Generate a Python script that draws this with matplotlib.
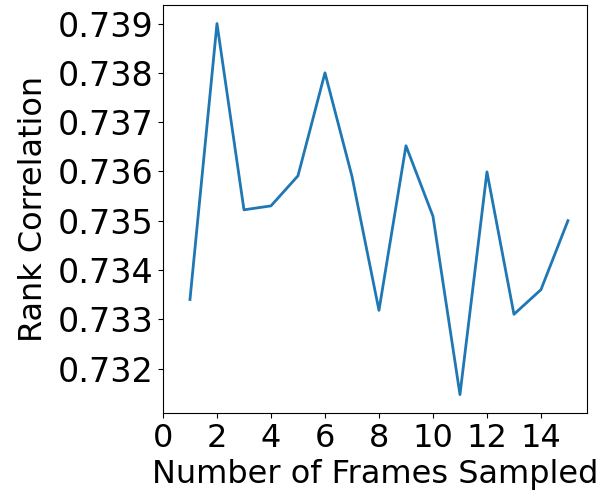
import matplotlib
matplotlib.use('Agg')
from matplotlib import pyplot as plt
import matplotlib.ticker as mtick

frames = [1, 2, 3, 4, 5, 6, 7, 8, 9, 10, 11, 12, 13, 14, 15]
rank_corr = [0.7334, 0.7390, 0.73522, 0.73530, 0.73591, 0.73800, 0.7359, 0.73318,
             0.73652, 0.73509, 0.73147, 0.73599, 0.7331, 0.7336, 0.7350]

plt.rcParams['font.size'] = 23

fig = plt.figure(figsize=(5.97, 4.99), dpi=100)
ax = fig.add_axes([0.273, 0.172, 0.710, 0.818])
ax.plot(frames, rank_corr, color='#1f77b4', linewidth=2)
ax.set_xlim(left=0)
ax.set_xticks([0, 2, 4, 6, 8, 10, 12, 14])
ax.yaxis.set_major_locator(mtick.MultipleLocator(0.001))
ax.yaxis.set_major_formatter(mtick.FormatStrFormatter('%.3f'))
ax.tick_params(axis='y', labelsize=24)
ax.set_xlabel('Number of Frames Sampled')
ax.set_ylabel('Rank Correlation', labelpad=6)
plt.savefig('out.png')
